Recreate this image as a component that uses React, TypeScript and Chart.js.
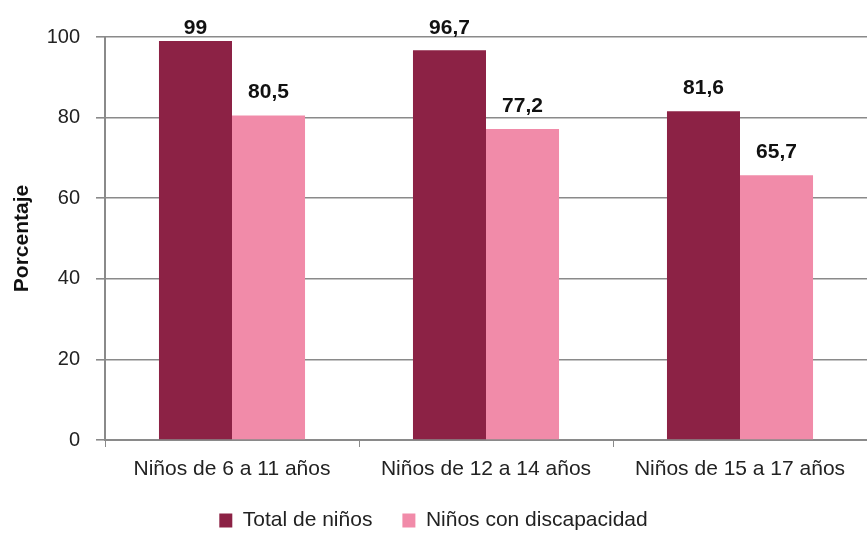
import React, { useEffect, useRef } from "react";
import { Chart, registerables } from "chart.js";

Chart.register(...registerables);

const categories = ["Niños de 6 a 11 años", "Niños de 12 a 14 años", "Niños de 15 a 17 años"];
const totalNinos = [99, 96.7, 81.6];
const ninosDiscapacidad = [80.5, 77.2, 65.7];
const seriesNames = ["Total de niños", "Niños con discapacidad"];
const yTicks = [0, 20, 40, 60, 80, 100];

const FONT = "'Liberation Sans', Arial, sans-serif";

const valueLabels = {
  id: "valueLabels",
  afterDatasetsDraw(chart: any) {
    const ctx = chart.ctx;
    ctx.save();
    ctx.font = `bold 21px ${FONT}`;
    ctx.fillStyle = "#111111";
    ctx.textAlign = "center";
    ctx.textBaseline = "middle";
    chart.data.datasets.forEach((ds: any, di: number) => {
      const meta = chart.getDatasetMeta(di);
      meta.data.forEach((bar: any, i: number) => {
        const v = ds.data[i];
        const txt = String(v).replace(".", ",");
        const y = Math.max(bar.y - 23, chart.chartArea.top - 9);
        ctx.fillText(txt, bar.x, y);
      });
    });
    ctx.restore();
  },
};

export default function App() {
  const ref = useRef<HTMLCanvasElement>(null);
  useEffect(() => {
    document.body.style.margin = "0";
    document.body.style.overflow = "hidden";
    const chart = new Chart(ref.current!, {
      type: "bar",
      data: {
        labels: categories,
        datasets: [
          {
            label: seriesNames[0],
            data: totalNinos,
            backgroundColor: "#8C2245",
            categoryPercentage: 0.575,
            barPercentage: 1,
          },
          {
            label: seriesNames[1],
            data: ninosDiscapacidad,
            backgroundColor: "#F18BA9",
            categoryPercentage: 0.575,
            barPercentage: 1,
          },
        ],
      },
      options: {
        responsive: false,
        animation: false,
        layout: { padding: { top: 37, left: 0, right: 0, bottom: -6 } },
        plugins: {
          legend: {
            position: "bottom",
            labels: {
              font: { family: FONT, size: 21 },
              color: "#222222",
              boxWidth: 13,
              boxHeight: 14,
              padding: 30,
            },
          },
          tooltip: { enabled: false },
        },
        scales: {
          x: {
            afterFit: (s: any) => {
              s.height = 40;
            },
            grid: {
              drawOnChartArea: false,
              drawTicks: true,
              tickLength: 7,
              color: "#8a8a8a",
              lineWidth: 1,
            },
            border: { color: "#8a8a8a", width: 2 },
            ticks: {
              font: { family: FONT, size: 21 },
              color: "#222222",
              padding: 10,
              maxRotation: 0,
            },
          },
          y: {
            min: 0,
            max: 100,
            afterFit: (s: any) => {
              s.width = 105;
            },
            afterBuildTicks: (s: any) => {
              s.ticks = yTicks.map((v) => ({ value: v }));
            },
            grid: {
              color: "#8a8a8a",
              lineWidth: 1.6,
              tickLength: 9,
              drawTicks: true,
            },
            border: { color: "#8a8a8a", width: 2 },
            ticks: {
              font: { family: FONT, size: 20 },
              color: "#222222",
              padding: 16,
            },
            title: {
              display: true,
              text: "Porcentaje",
              font: { family: FONT, size: 21, weight: "bold" },
              color: "#111111",
              padding: { top: 10, bottom: 0 },
            },
          },
        },
      },
      plugins: [valueLabels],
    });
    return () => chart.destroy();
  }, []);
  return (
    <div style={{ width: 867, height: 535 }}>
      <canvas ref={ref} width={867} height={535} style={{ display: "block" }} />
    </div>
  );
}
